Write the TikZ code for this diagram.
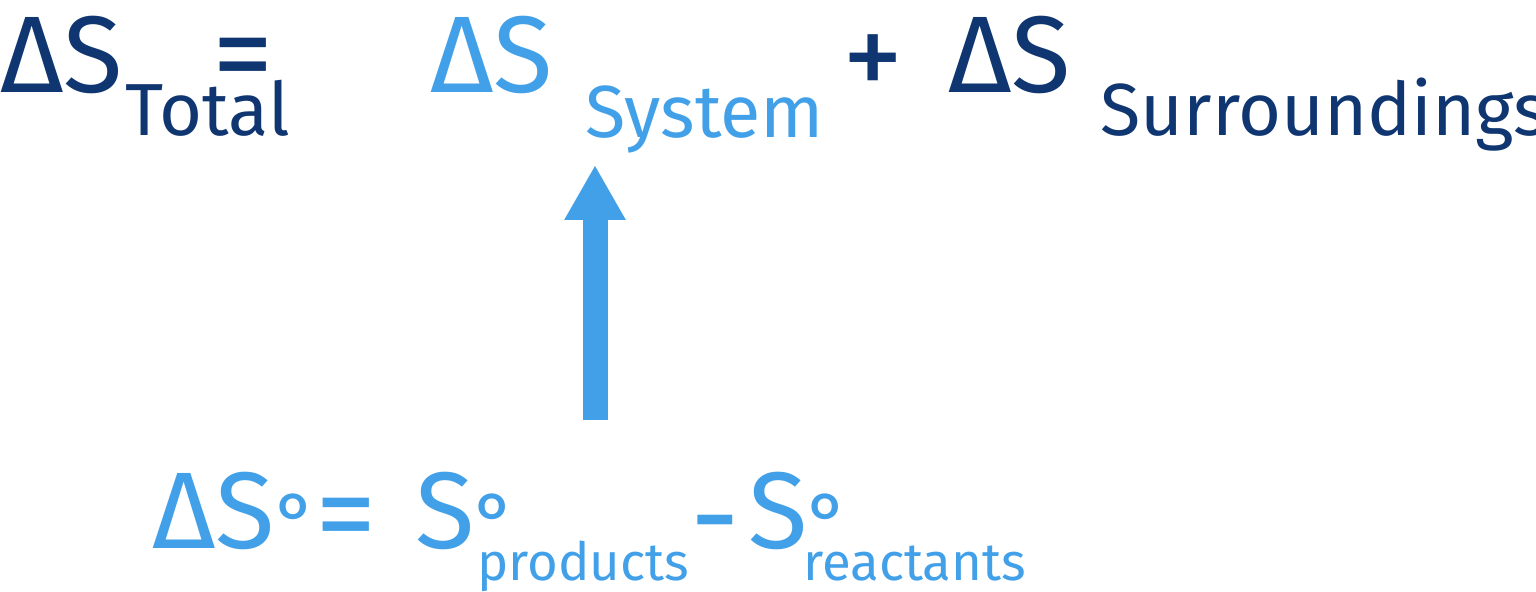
\documentclass[tikz,border=0pt]{standalone}
\usepackage{fontspec}
\setmainfont{Fira Sans}
\usetikzlibrary{arrows.meta}
\definecolor{navy}{HTML}{0F3670}
\definecolor{sky}{HTML}{42A0E8}
\newcommand{\degsym}{\raisebox{-0.02em}{\fontsize{46}{46}\selectfont °}}
\tikzset{
  big/.style={inner sep=0, anchor=base west, font=\fontsize{62}{62}\selectfont},
  op/.style={inner sep=0, anchor=base west, font=\fontsize{70}{70}\selectfont},
  sub/.style={inner sep=0, anchor=base west, font=\fontsize{42}{42}\selectfont},
  bot/.style={inner sep=0, anchor=base west, font=\fontsize{30}{30}\selectfont},
}
\begin{document}
\begin{tikzpicture}[x=0.02cm, y=-0.02cm]
\useasboundingbox (0,0) rectangle (1536,592);
% top line
\node[big, navy] (dtot) at (0,92) {ΔS};
\node[sub, navy] (tot) at (125,135) {Total};
\node[op, navy] (eq) at (212,95) {=};
\node[big, sky] (dsys) at (430,92) {ΔS};
\node[sub, sky] (sys) at (585,137) {System};
\node[op, navy] (plus) at (842,98) {+};
\node[big, navy] (dsur) at (948,92) {ΔS};
\node[sub, navy] (sur) at (1100,135) {Surroundings};
% bottom line
\node[big, sky] (dstd) at (152,548) {ΔS\degsym};
\node[op, sky] (eqb) at (315,555) {=};
\node[big, sky] (sp) at (415,548) {S\degsym};
\node[bot, sky] (prod) at (477,580) {products};
\node[op, sky] (minus) at (690,558) {-};
\node[big, sky] (sr) at (748,548) {S\degsym};
\node[bot, sky] (reac) at (803,580) {reactants};
% arrow
\coordinate (foot) at (595,420);
\coordinate (tip) at (595,165);
\draw[sky, line width=0.5cm, -{Triangle[length=1.1cm,width=1.15cm]}] (foot) -- (tip);
\end{tikzpicture}
\end{document}
